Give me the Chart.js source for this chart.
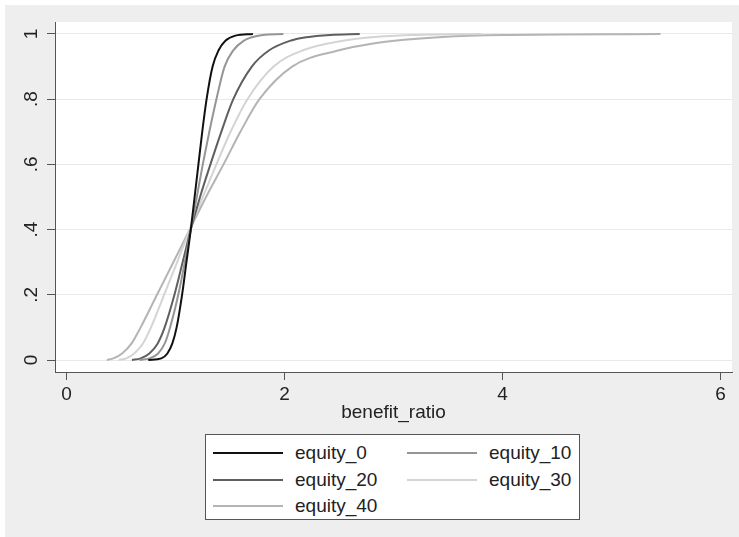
<!DOCTYPE html>
<html>
<head>
<meta charset="utf-8">
<script src="https://cdn.jsdelivr.net/npm/chart.js@4/dist/chart.umd.min.js"></script>
<style>
  html, body { margin: 0; padding: 0; background: #ffffff; }
  #wrap { position: relative; width: 739px; height: 537px; }
  #chart { position: absolute; left: 0; top: 0; }
  #legend {
    position: absolute; left: 205px; top: 434px; width: 375px; height: 86px;
    background: #ffffff; border: 1px solid #555555; box-sizing: border-box;
    font-family: "Liberation Sans", Arial, sans-serif; font-size: 19px; color: #222222;
  }
  .item { position: absolute; height: 26px; display: flex; align-items: center; white-space: nowrap; }
  .swatch { width: 70px; height: 0; margin-right: 12px; }
</style>
</head>
<body>
<div id="wrap">
  <canvas id="chart" width="739" height="537"></canvas>
  <div id="legend"></div>
</div>
<script>
// Cumulative share of cases by benefit ratio, one curve per equity level
const seriesNames = ['equity_0', 'equity_10', 'equity_20', 'equity_30', 'equity_40'];

const eq0X  = [0.75, 0.87, 0.925, 0.97, 1.01, 1.06, 1.10, 1.14, 1.175, 1.21, 1.245, 1.285, 1.34, 1.395, 1.46, 1.55, 1.71];
const eq0Y  = [0, 0.005, 0.02, 0.05, 0.10, 0.20, 0.30, 0.40, 0.50, 0.60, 0.70, 0.80, 0.90, 0.95, 0.98, 0.995, 1.0];

const eq10X = [0.67, 0.76, 0.84, 0.90, 0.95, 1.025, 1.085, 1.14, 1.195, 1.25, 1.31, 1.375, 1.45, 1.53, 1.63, 1.70, 1.80, 1.99];
const eq10Y = [0, 0.005, 0.02, 0.05, 0.10, 0.20, 0.30, 0.40, 0.50, 0.60, 0.70, 0.80, 0.90, 0.95, 0.98, 0.99, 0.997, 1.0];

const eq20X = [0.60, 0.68, 0.76, 0.835, 0.90, 0.99, 1.065, 1.14, 1.225, 1.32, 1.42, 1.53, 1.70, 1.86, 2.06, 2.20, 2.42, 2.69];
const eq20Y = [0, 0.005, 0.02, 0.05, 0.10, 0.20, 0.30, 0.40, 0.50, 0.60, 0.70, 0.80, 0.90, 0.95, 0.98, 0.99, 0.997, 1.0];

const eq30X = [0.48, 0.55, 0.62, 0.70, 0.775, 0.895, 1.015, 1.13, 1.25, 1.375, 1.505, 1.66, 1.90, 2.17, 2.55, 2.80, 3.15, 3.81];
const eq30Y = [0, 0.005, 0.02, 0.05, 0.10, 0.20, 0.30, 0.40, 0.50, 0.60, 0.70, 0.80, 0.90, 0.95, 0.98, 0.99, 0.997, 1.0];

const eq40X = [0.37, 0.43, 0.51, 0.595, 0.68, 0.83, 0.98, 1.13, 1.28, 1.44, 1.595, 1.77, 2.07, 2.50, 2.80, 3.10, 3.45, 4.00, 5.45];
const eq40Y = [0, 0.005, 0.02, 0.05, 0.10, 0.20, 0.30, 0.40, 0.50, 0.60, 0.70, 0.80, 0.90, 0.95, 0.97, 0.982, 0.991, 0.997, 1.0];

const xTickValues = [0, 2, 4, 6];
const xTickLabels = ['0', '2', '4', '6'];
const yTickValues = [0, 0.2, 0.4, 0.6, 0.8, 1];
const yTickLabels = ['0', '.2', '.4', '.6', '.8', '1'];

const lineColors = ['#111111', '#959595', '#5f5f5f', '#d4d4d4', '#b4b4b4'];

const xsList = [eq0X, eq10X, eq20X, eq30X, eq40X];
const ysList = [eq0Y, eq10Y, eq20Y, eq30Y, eq40Y];

const datasets = seriesNames.map((name, i) => ({
  label: name,
  data: xsList[i].map((x, k) => ({ x: x, y: ysList[i][k] })),
  showLine: true,
  borderColor: lineColors[i],
  backgroundColor: lineColors[i],
  borderWidth: 2,
  pointRadius: 0,
  cubicInterpolationMode: 'monotone',
  fill: false,
  order: i
}));

// Gray page backdrop with a white plot region
const backdrop = {
  id: 'backdrop',
  beforeDraw(chart) {
    const { ctx, chartArea } = chart;
    ctx.save();
    ctx.fillStyle = '#eeeeee';
    ctx.fillRect(5, 5, chart.width - 5, chart.height - 5);
    ctx.fillStyle = '#ffffff';
    ctx.fillRect(chartArea.left, chartArea.top, chartArea.right - chartArea.left, chartArea.bottom - chartArea.top);
    ctx.restore();
  }
};

const font = { family: '"Liberation Sans", Arial, sans-serif', size: 19 };

const chart = new Chart(document.getElementById('chart'), {
  type: 'scatter',
  data: { datasets },
  options: {
    responsive: false,
    animation: false,
    devicePixelRatio: 1,
    layout: { padding: { left: 0, top: 22, right: 7, bottom: 105 } },
    plugins: {
      legend: { display: false },
      tooltip: { enabled: false }
    },
    scales: {
      x: {
        type: 'linear',
        min: -0.106,
        max: 6.106,
        afterFit(scale) { scale.height = 60; },
        afterBuildTicks(scale) { scale.ticks = xTickValues.map(v => ({ value: v })); },
        ticks: {
          font: font,
          color: '#222222',
          padding: 3,
          maxRotation: 0,
          callback: (v, i) => xTickLabels[i]
        },
        grid: { drawOnChartArea: false, tickLength: 8, tickColor: '#555555', tickWidth: 1 },
        border: { color: '#555555', width: 1 },
        title: { display: true, text: 'benefit_ratio', font: font, color: '#222222', padding: { top: 0, bottom: 8 } }
      },
      y: {
        type: 'linear',
        min: -0.0368,
        max: 1.0368,
        afterFit(scale) { scale.width = 55; },
        afterBuildTicks(scale) { scale.ticks = yTickValues.map(v => ({ value: v })); },
        ticks: {
          font: font,
          color: '#222222',
          padding: 7,
          minRotation: 90,
          maxRotation: 90,
          crossAlign: 'center',
          callback: (v, i) => yTickLabels[i]
        },
        grid: { color: '#e9e9e9', lineWidth: 1, tickLength: 8, tickColor: '#555555', tickWidth: 1 },
        border: { color: '#555555', width: 1 }
      }
    }
  },
  plugins: [backdrop]
});

// Two-column legend box built from the chart's datasets
const legendEl = document.getElementById('legend');
const rowTops = [5, 32, 58];
chart.data.datasets.forEach((ds, i) => {
  const col = i % 2;
  const row = Math.floor(i / 2);
  const item = document.createElement('div');
  item.className = 'item';
  item.style.left = (7 + col * 194) + 'px';
  item.style.top = rowTops[row] + 'px';
  const sw = document.createElement('span');
  sw.className = 'swatch';
  sw.style.borderTop = '2px solid ' + ds.borderColor;
  const tx = document.createElement('span');
  tx.textContent = ds.label;
  item.appendChild(sw);
  item.appendChild(tx);
  legendEl.appendChild(item);
});
</script>
</body>
</html>
